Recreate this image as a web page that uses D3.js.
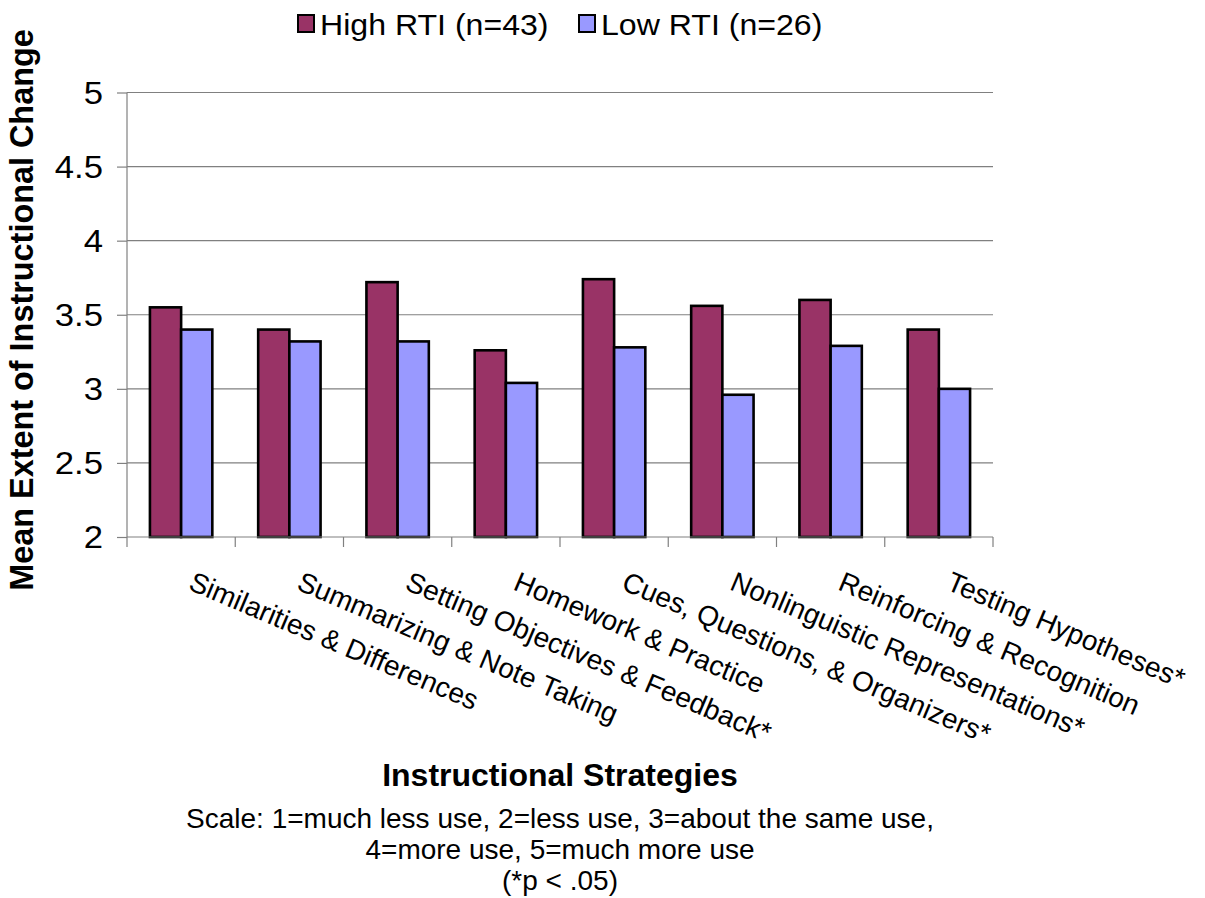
<!DOCTYPE html>
<html>
<head>
<meta charset="utf-8">
<script src="https://cdn.jsdelivr.net/npm/d3@7"></script>
<style>
  html, body { margin: 0; padding: 0; background: #fff; }
  svg { display: block; font-family: "Liberation Sans", Arial, sans-serif; }
</style>
</head>
<body>
<svg id="chart" width="1205" height="898"></svg>
<script>
const categories = [
  "Similarities & Differences",
  "Summarizing & Note Taking",
  "Setting Objectives & Feedback*",
  "Homework & Practice",
  "Cues, Questions, & Organizers*",
  "Nonlinguistic Representations*",
  "Reinforcing & Recognition",
  "Testing Hypotheses*"
];
const seriesNames = ["High RTI (n=43)", "Low RTI (n=26)"];
const highValues = [3.55, 3.40, 3.72, 3.26, 3.74, 3.56, 3.60, 3.40];
const lowValues  = [3.40, 3.32, 3.32, 3.04, 3.28, 2.96, 3.29, 3.00];
const seriesColors = ["#993366", "#9999FF"];
const yTicks = [2, 2.5, 3, 3.5, 4, 4.5, 5];
const yTitle = "Mean Extent of Instructional Change";
const xTitle = "Instructional Strategies";
const notes = [
  "Scale: 1=much less use, 2=less use, 3=about the same use,",
  "4=more use, 5=much more use",
  "(*p < .05)"
];

(function () {
const svg = d3.select("#chart");
const pLeft = 127, pRight = 993, pTop = 92.5, pBottom = 537;

const x = d3.scaleBand().domain(categories).range([pLeft, pRight]).paddingInner(0).paddingOuter(0);
const x1 = d3.scaleBand().domain(seriesNames).range([0, x.bandwidth()]).paddingInner(0).paddingOuter(0.735);
const y = d3.scaleLinear().domain([2, 5]).range([pBottom, pTop]);

const data = categories.map((c, i) => ({ cat: c, vals: [highValues[i], lowValues[i]] }));

// gridlines
svg.append("g").selectAll("line").data(yTicks.filter(t => t > 2)).join("line")
  .attr("x1", pLeft).attr("x2", pRight)
  .attr("y1", d => y(d)).attr("y2", d => y(d))
  .attr("stroke", "#808080").attr("stroke-width", 1.2);

// y axis
const yAxis = d3.axisLeft(y).tickValues(yTicks).tickSize(10).tickPadding(14).tickFormat(d3.format("~g"));
const yg = svg.append("g").attr("transform", `translate(${pLeft},0)`).call(yAxis);
yg.select(".domain").attr("stroke", "#808080").attr("stroke-width", 1.2).attr("d", `M0,${pBottom}V${pTop}`);
yg.selectAll(".tick line").attr("stroke", "#808080").attr("stroke-width", 1.2);
yg.selectAll(".tick text")
  .attr("x", null).attr("dy", null)
  .attr("transform", "translate(-24,0) scale(1.12,1)")
  .attr("dominant-baseline", "central")
  .attr("font-size", 31).attr("fill", "#000")
  .attr("font-family", "'Liberation Sans', Arial, sans-serif");

// bars
const groups = svg.append("g").selectAll("g").data(data).join("g")
  .attr("transform", d => `translate(${x(d.cat)},0)`);
groups.selectAll("rect").data(d => d.vals.map((v, j) => ({ v, s: seriesNames[j], j }))).join("rect")
  .attr("x", d => x1(d.s))
  .attr("width", x1.bandwidth())
  .attr("y", d => y(d.v))
  .attr("height", d => y(2) - y(d.v))
  .attr("fill", d => seriesColors[d.j])
  .attr("stroke", "#000").attr("stroke-width", 2.6);

// x axis
const xAxisG = svg.append("g");
xAxisG.append("line").attr("x1", pLeft).attr("x2", pRight).attr("y1", pBottom).attr("y2", pBottom)
  .attr("stroke", "#808080").attr("stroke-width", 1.2);
const boundaries = categories.map(c => x(c)).concat([x(categories[categories.length - 1]) + x.bandwidth()]);
xAxisG.selectAll("line.tk").data(boundaries).join("line").attr("class", "tk")
  .attr("x1", d => d).attr("x2", d => d).attr("y1", pBottom).attr("y2", pBottom + 10)
  .attr("stroke", "#808080").attr("stroke-width", 1.2);

// category labels rotated
svg.append("g").selectAll("text").data(categories).join("text")
  .attr("transform", d => `translate(${x(d) + x.bandwidth() / 2 + 6},589) rotate(23)`)
  .attr("font-size", 28).attr("fill", "#000").attr("text-anchor", "start")
  .text(d => d);

// y title
svg.append("text")
  .attr("transform", `translate(33,310) rotate(-90)`)
  .attr("text-anchor", "middle").attr("font-size", 32.4).attr("font-weight", "bold")
  .text(yTitle);

// x title
svg.append("text").attr("x", 560).attr("y", 786).attr("text-anchor", "middle")
  .attr("font-size", 32).attr("font-weight", "bold").text(xTitle);

// notes
svg.append("g").selectAll("text").data(notes).join("text")
  .attr("x", 560).attr("y", (d, i) => 828 + i * 31)
  .attr("text-anchor", "middle").attr("font-size", 28).text(d => d);

// legend
const legend = svg.append("g");
const legX = [298, 579];
seriesNames.forEach((s, i) => {
  legend.append("rect").attr("x", legX[i]).attr("y", 15).attr("width", 16).attr("height", 17)
    .attr("fill", seriesColors[i]).attr("stroke", "#000").attr("stroke-width", 2);
  legend.append("text").attr("transform", `translate(${legX[i] + 22},35) scale(1.07,1)`)
    .attr("font-size", 30).text(s);
});
})();
</script>
</body>
</html>
